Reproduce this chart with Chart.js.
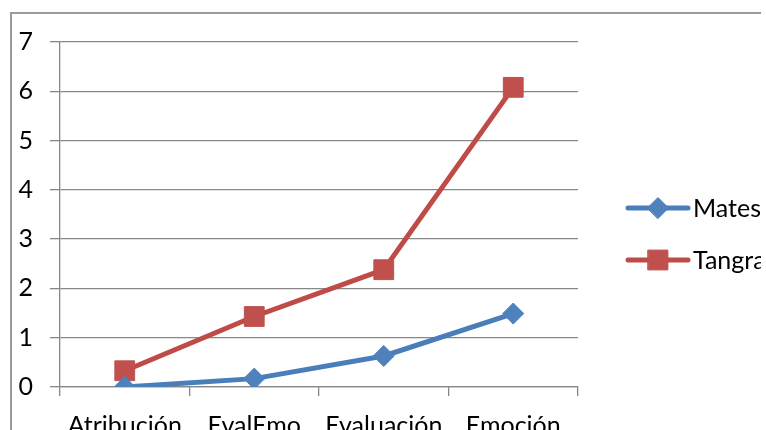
<!DOCTYPE html>
<html>
<head>
<meta charset="utf-8">
<script src="https://cdn.jsdelivr.net/npm/chart.js@4"></script>
<style>
  html, body { margin: 0; padding: 0; background: #fff; }
  #wrap { width: 766px; height: 430px; position: relative; overflow: hidden; }
</style>
</head>
<body>
<div id="wrap"><canvas id="c" width="761" height="430"></canvas></div>
<script>
const categories = ['Atribución', 'EvalEmo', 'Evaluación', 'Emoción'];
const matesValues = [0, 0.17, 0.63, 1.49];
const tangramValues = [0.33, 1.43, 2.38, 6.08];
const seriesNames = ['Mates', 'Tangram'];
const yTicks = [0, 1, 2, 3, 4, 5, 6, 7];

const FONT = 'Lato, "Open Sans", sans-serif';
const FONT_SIZE = 25;
const GRID = '#878787';

// Outer frame of the chart (runs off the right and bottom edges)
const framePlugin = {
  id: 'frame',
  beforeDraw(chart) {
    const ctx = chart.ctx;
    ctx.save();
    ctx.fillStyle = '#fff';
    ctx.fillRect(0, 0, chart.width, chart.height);
    ctx.strokeStyle = '#9a9a9a';
    ctx.lineWidth = 2;
    ctx.strokeRect(11, 13, chart.width + 40, chart.height + 40);
    ctx.restore();
  }
};

// Legend with a line through each marker, placed right of the plot
const lineLegendPlugin = {
  id: 'lineLegend',
  afterDraw(chart) {
    const ctx = chart.ctx;
    const area = chart.chartArea;
    ctx.save();
    chart.data.datasets.forEach((ds, i) => {
      const y = 208 + i * 52;
      const x1 = area.right + 50, x2 = area.right + 110;
      ctx.strokeStyle = ds.borderColor;
      ctx.lineWidth = 5;
      ctx.lineCap = 'round';
      ctx.beginPath();
      ctx.moveTo(x1, y);
      ctx.lineTo(x2, y);
      ctx.stroke();
      ctx.fillStyle = ds.pointBackgroundColor;
      ctx.strokeStyle = ds.pointBorderColor;
      ctx.lineWidth = 1;
      Chart.helpers.drawPoint(ctx, {
        pointStyle: ds.pointStyle,
        radius: ds.pointRadius,
        borderWidth: 1
      }, (x1 + x2) / 2, y);
      ctx.fillStyle = '#000';
      ctx.font = FONT_SIZE + 'px ' + FONT;
      ctx.textBaseline = 'middle';
      ctx.textAlign = 'left';
      ctx.fillText(ds.label, x2 + 5, y + 1);
    });
    ctx.restore();
  }
};

new Chart(document.getElementById('c'), {
  type: 'line',
  data: {
    labels: categories,
    datasets: [
      {
        label: seriesNames[0],
        data: matesValues,
        borderColor: '#4a7ebb',
        borderWidth: 5,
        pointStyle: 'rectRot',
        pointRadius: 10.5,
        pointBackgroundColor: '#4f81bd',
        pointBorderColor: '#4f81bd',
        pointBorderWidth: 1,
        tension: 0
      },
      {
        label: seriesNames[1],
        data: tangramValues,
        borderColor: '#be4b48',
        borderWidth: 5,
        pointStyle: 'rect',
        pointRadius: 14,
        pointBackgroundColor: '#c0504d',
        pointBorderColor: '#c0504d',
        pointBorderWidth: 1,
        tension: 0
      }
    ]
  },
  options: {
    responsive: false,
    animation: false,
    events: [],
    layout: { padding: { left: 0, top: 42, right: 183, bottom: 0 } },
    plugins: {
      legend: { display: false },
      tooltip: { enabled: false }
    },
    scales: {
      x: {
        type: 'category',
        offset: true,
        grid: {
          offset: true,
          drawOnChartArea: false,
          drawTicks: true,
          tickLength: 9,
          color: GRID,
          lineWidth: 1.3
        },
        border: { color: GRID, width: 1.3 },
        ticks: {
          color: '#000',
          font: { family: FONT, size: FONT_SIZE },
          padding: 15,
          maxRotation: 0,
          autoSkip: false
        },
        afterFit(scale) { scale.height = 43; }
      },
      y: {
        min: 0,
        max: 7,
        afterBuildTicks(scale) { scale.ticks = yTicks.map(v => ({ value: v })); },
        grid: {
          color: GRID,
          lineWidth: 1.3,
          drawTicks: true,
          tickLength: 10
        },
        border: { color: GRID, width: 1.3 },
        ticks: {
          color: '#000',
          font: { family: FONT, size: FONT_SIZE },
          padding: 17
        },
        afterFit(scale) { scale.width = 60; }
      }
    }
  },
  plugins: [framePlugin, lineLegendPlugin]
});
</script>
</body>
</html>
